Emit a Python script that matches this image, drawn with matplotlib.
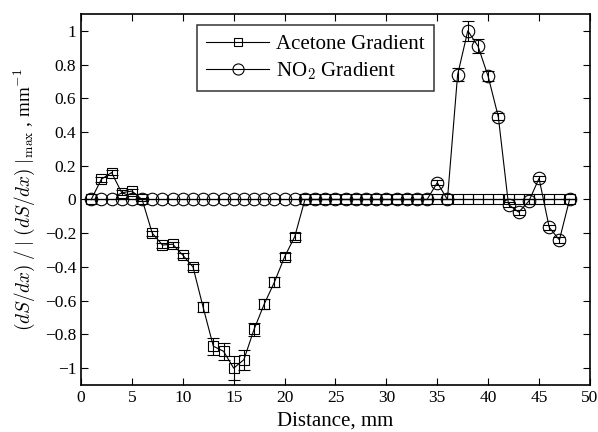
import numpy as np
import matplotlib
matplotlib.use("Agg")
import matplotlib.pyplot as plt
from matplotlib.lines import Line2D

plt.rcParams['font.family'] = ['Liberation Serif', 'DejaVu Serif']
plt.rcParams['mathtext.fontset'] = 'cm'

# distance along the channel, mm
distance = np.arange(1, 49)

# acetone gradient (normalised) and its error bars
acetone = [0, 0.12, 0.16, 0.04, 0.05, 0.0, -0.20, -0.27, -0.265, -0.33,
           -0.40, -0.64, -0.87, -0.90, -1.0, -0.95, -0.77, -0.62, -0.49, -0.34,
           -0.22] + [0] * 27
acetone_err = [0, 0.015, 0.015, 0.015, 0.015, 0.01, 0.015, 0.015, 0.015, 0.015,
               0.02, 0.03, 0.05, 0.05, 0.07, 0.06, 0.04, 0.03, 0.03, 0.02,
               0.02] + [0] * 27

# NO2 gradient (normalised) and its error bars
no2 = [0] * 34 + [0.10, 0.0, 0.74, 1.0, 0.91, 0.73, 0.49, -0.03, -0.075,
                  -0.01, 0.125, -0.165, -0.24, 0]
no2_err = [0] * 34 + [0.015, 0.0, 0.04, 0.06, 0.04, 0.03, 0.02, 0.015, 0.015,
                      0.015, 0.015, 0.015, 0.015, 0]

fig = plt.figure(figsize=(5.98, 4.32), dpi=100)
ax = fig.add_axes([0.1355, 0.1088, 0.851, 0.8588])

ax.errorbar(distance, acetone, yerr=acetone_err, color='black', lw=0.8,
            marker='s', ms=7, mfc='none', mec='black', mew=0.8,
            capsize=4, elinewidth=0.8)
ax.errorbar(distance, no2, yerr=no2_err, color='black', lw=0.8,
            marker='o', ms=9, mfc='none', mec='black', mew=0.8,
            capsize=4, elinewidth=0.8)

ax.set_xlim(0, 50)
ax.set_ylim(-1.1, 1.1)
ax.set_xticks(np.arange(0, 51, 5))
ax.set_yticks(np.round(np.arange(-1, 1.01, 0.2), 1))
ax.set_yticklabels(['\u22121', '\u22120.8', '\u22120.6', '\u22120.4', '\u22120.2',
                    '0', '0.2', '0.4', '0.6', '0.8', '1'])
ax.tick_params(direction='in', top=True, right=True, labelsize=12.5, length=5)
for s in ax.spines.values():
    s.set_linewidth(1.2)

ax.set_xlabel('Distance, mm', fontsize=15, labelpad=4)
ax.set_ylabel(r'$(dS/dx)\;/\;|\;(dS/dx)\;|_{\rm max}$ , mm$^{-1}$', fontsize=13.8)
ax.yaxis.set_label_coords(-0.087, 0.5)

handles = [Line2D([], [], color='black', lw=0.8, marker='s', ms=6, mfc='none', mew=0.8),
           Line2D([], [], color='black', lw=0.8, marker='o', ms=8, mfc='none', mew=0.8)]
leg = ax.legend(handles, ['Acetone Gradient', 'NO$_2$ Gradient'],
                loc='upper left', bbox_to_anchor=(0.228, 0.970), borderaxespad=0,
                fontsize=15, handlelength=3.0, handletextpad=0.35,
                frameon=True, fancybox=False, edgecolor='black',
                borderpad=0.45, labelspacing=0.3)
leg.get_frame().set_linewidth(1.1)

fig.savefig('out.png', dpi=100)
